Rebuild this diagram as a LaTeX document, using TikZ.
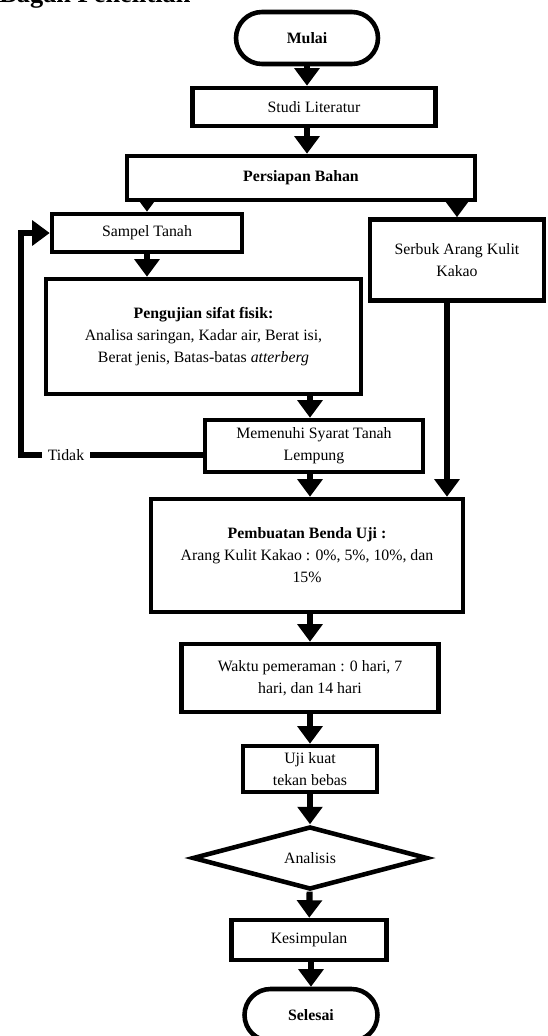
\documentclass[tikz,border=0pt]{standalone}
\usepackage{fontspec}
\setmainfont{Liberation Serif}
\usetikzlibrary{shapes.geometric}
\usetikzlibrary{arrows.meta}
\usetikzlibrary{calc}
\usetikzlibrary{backgrounds}
\tikzset{
    Box/.style = {rectangle, draw=black, align=center, fill=white, line width=2.6pt, inner sep=2pt}
}
\tikzset{
    Edge/.style = {draw=black, line width=3.5pt, -{Triangle[width=0.49cm,length=0.35cm]}}
}

\begin{document}
\begin{tikzpicture}[
    x=0.02cm, y=-0.02cm,
    font=\fontsize{9}{12.5}\selectfont
]
\tikzset{
    Term/.style = {Box, rounded corners=0.52cm},
    Decision/.style = {diamond, draw=black, align=center, fill=white, line width=2.6pt, inner sep=0pt},
    Line/.style = {draw=black, line width=3.5pt}
}
\useasboundingbox (0,0) rectangle (548,1036);
\clip (0,0) rectangle (548,1036);
\node[anchor=base west, inner sep=0pt, font=\bfseries\fontsize{15}{18}\selectfont] at (-1,2) (judul) {Bagan Penelitian};
\node[Term, minimum width=2.84cm, minimum height=1.04cm] at (307,38) (Mulai) {\textbf{Mulai}};
\node[Box, minimum width=4.86cm, minimum height=0.76cm] at (314,107) (Studi) {Studi Literatur};
\node[Box, minimum width=6.96cm, minimum height=0.88cm] at (301,178) (Persiapan) {\textbf{Persiapan Bahan}};
\node[Box, minimum width=3.8cm, minimum height=0.76cm] at (147,233) (Sampel) {Sampel Tanah};
\node[Box, minimum width=3.48cm, minimum height=1.62cm] at (457,260) (Serbuk) {Serbuk Arang Kulit\\Kakao};
\node[Box, minimum width=6.3cm, minimum height=2.3cm] at (203.5,336.5) (Pengujian) {\textbf{Pengujian sifat fisik:}\\Analisa saringan, Kadar air, Berat isi,\\Berat jenis, Batas-batas \textit{atterberg}};
\node[Box, minimum width=4.36cm, minimum height=1.04cm] at (314,446) (Memenuhi) {Memenuhi Syarat Tanah\\Lempung};
\node[Box, minimum width=6.24cm, minimum height=2.26cm] at (307,555.5) (Pembuatan) {\textbf{Pembuatan Benda Uji :}\\Arang Kulit Kakao : 0\%, 5\%, 10\%, dan\\15\%};
\node[Box, minimum width=5.14cm, minimum height=1.36cm] at (310,678) (Waktu) {Waktu pemeraman : 0 hari, 7\\hari, dan 14 hari};
\node[Box, minimum width=2.68cm, minimum height=0.92cm] at (310,769) (Uji) {Uji kuat\\tekan bebas};
\node[Decision, minimum width=4.7cm, minimum height=1.24cm] at (310,858) (Analisis) {Analisis};
\node[Box, minimum width=3.1cm, minimum height=0.8cm] at (309,940) (Kesimpulan) {Kesimpulan};
\node[Term, minimum width=2.66cm, minimum height=1.04cm] at (311,1015) (Selesai) {\textbf{Selesai}};
\node[inner sep=3pt] at (66,455) (tidak) {Tidak};
\coordinate (belok) at (21,455);
\coordinate (serbukout) at ($(Serbuk.south)+(-10,0)$);
\begin{scope}[on background layer]
\path (Mulai.south) edge [Edge] (Mulai.south |- Studi.north);
\path (Studi.south -| Mulai.south) edge [Edge] (Persiapan.north -| Mulai.south);
\path (Persiapan.south -| Sampel.north) edge [Edge] (Sampel.north);
\path (Persiapan.south -| Serbuk.north) edge [Edge] (Serbuk.north);
\path (Sampel.south) edge [Edge] (Sampel.south |- Pengujian.north);
\path (Pengujian.south -| Waktu.north) edge [Edge] (Memenuhi.north -| Waktu.north);
\path (Memenuhi.south -| Waktu.north) edge [Edge] (Pembuatan.north -| Waktu.north);
\path (serbukout) edge [Edge] (serbukout |- Pembuatan.north);
\path (Pembuatan.south -| Waktu.north) edge [Edge] (Waktu.north);
\path (Waktu) edge [Edge] (Uji);
\path (Uji) edge [Edge] (Analisis);
\path (Analisis) edge [Edge] (Kesimpulan);
\path (Kesimpulan.south -| Selesai.north) edge [Edge] (Selesai.north);
\end{scope}
% jalur kembali jika tidak memenuhi
\draw[Line] (Memenuhi.west |- tidak) -- (tidak.east);
\draw[Edge] (tidak.west) -- (belok) |- (Sampel.west);
\end{tikzpicture}
\end{document}
